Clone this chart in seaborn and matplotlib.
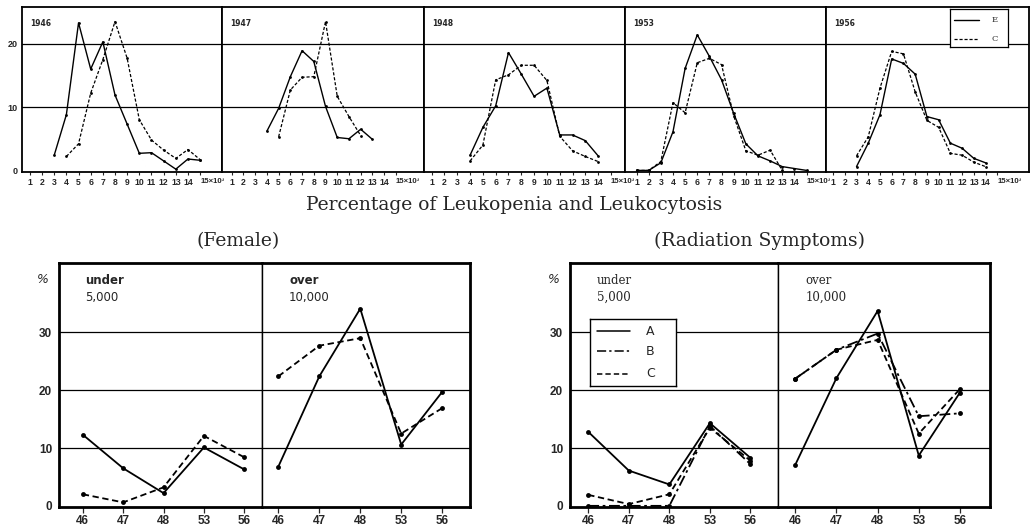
import matplotlib
matplotlib.use("Agg")
import matplotlib.pyplot as plt
import seaborn as sns
import numpy as np

# ---------------- data ----------------
top_years = ["1946", "1947", "1948", "1953", "1956"]
top_tick_labels = ["1", "2", "3", "4", "5", "6", "7", "8", "9", "10", "11", "12", "13", "14", "15×10³"]

# solid series (E) : start x, values
e_start = [3, 4, 4, 1, 3]
e_vals = [
    [2.4, 8.8, 23.3, 16.0, 20.3, 11.9, 7.3, 2.7, 2.8, 1.5, 0.2, 1.8, 1.6],
    [6.2, 9.8, 14.8, 18.9, 17.2, 10.1, 5.2, 5.0, 6.5, 4.9],
    [2.4, 6.8, 10.2, 18.6, 15.2, 11.7, 13.0, 5.6, 5.6, 4.7, 2.3],
    [0.0, 0.0, 1.2, 6.1, 16.1, 21.4, 18.0, 14.3, 9.0, 4.2, 2.3, 1.5, 0.6, 0.3, 0.0],
    [0.6, 4.3, 8.8, 17.6, 16.9, 15.2, 8.5, 8.0, 4.3, 3.5, 1.9, 1.2],
]
# dashed series (C)
c_start = [4, 5, 4, 1, 3]
c_vals = [
    [2.2, 4.2, 12.2, 17.5, 23.5, 17.7, 8.0, 4.8, 3.2, 1.9, 3.3, 1.7],
    [5.3, 12.7, 14.7, 14.8, 23.5, 11.7, 8.5, 5.5],
    [1.5, 4.0, 14.3, 15.1, 16.6, 16.6, 14.2, 5.4, 3.1, 2.2, 1.4],
    [0.0, 0.0, 1.4, 10.7, 9.1, 17.0, 17.7, 16.7, 8.6, 3.1, 2.4, 3.2, 0.0],
    [2.3, 5.3, 13.0, 18.8, 18.4, 12.4, 7.9, 6.8, 2.7, 2.4, 1.3, 0.6],
]

years = ["46", "47", "48", "53", "56"]

# Female
fem_under_solid = [12.3, 6.5, 2.2, 10.1, 6.3]
fem_under_dash = [2.0, 0.6, 3.2, 12.1, 8.4]
fem_over_solid = [6.8, 22.4, 34.1, 10.6, 19.7]
fem_over_dash = [22.4, 27.7, 29.0, 12.5, 16.9]

# Radiation symptoms
rad_under_A = [12.8, 6.1, 3.7, 14.3, 8.3]
rad_under_B = [0.0, 0.0, 0.0, 13.8, 7.2]
rad_under_C = [1.9, 0.3, 2.0, 13.5, 7.8]
rad_over_A = [7.1, 22.1, 33.7, 8.7, 19.6]
rad_over_B = [22.0, 27.0, 29.8, 15.5, 16.0]
rad_over_C = [22.0, 27.0, 28.7, 12.5, 20.2]

# ---------------- figure ----------------
sns.set_theme(style="white")
plt.rcParams["font.family"] = ["DejaVu Sans"]
TICKF = ["Liberation Sans", "DejaVu Sans"]

W, H = 1032, 530
fig = plt.figure(figsize=(W / 100, H / 100), dpi=100)


def ax_px(x0, y0, x1, y1):
    return fig.add_axes([x0 / W, 1 - y1 / H, (x1 - x0) / W, (y1 - y0) / H])


def line(ax, x, y, ls, lw=1.0, ms=2.5):
    sns.lineplot(x=x, y=y, ax=ax, color="black", linestyle=ls, linewidth=lw,
                 marker="o", markersize=ms, markeredgewidth=0, errorbar=None)


# ---- top row ----
edges = [22, 222, 424, 625, 826, 1029]
top_xlims = [(0.35, 16.8), (0.17, 17.4), (0.4, 16.1), (0.05, 16.6), (0.4, 17.7)]
for i in range(5):
    ax = ax_px(edges[i], 7, edges[i + 1], 172)
    ax.set_xlim(*top_xlims[i])
    ax.set_ylim(-0.25, 25.8)
    for v in (10, 20):
        ax.axhline(v, color="black", lw=0.9, zorder=0)
    xe = list(range(e_start[i], e_start[i] + len(e_vals[i])))
    xc = list(range(c_start[i], c_start[i] + len(c_vals[i])))
    line(ax, xe, e_vals[i], "-", lw=1.0, ms=2)
    line(ax, xc, c_vals[i], (0, (2.5, 1.5)), lw=0.9, ms=2)
    ax.set_xticks(range(1, 16))
    ax.set_xticklabels(top_tick_labels, family=TICKF, fontsize=6.2, fontweight="bold")
    lab = ax.get_xticklabels()[-1]
    lab.set_horizontalalignment("left")
    lab.set_x(14.5)
    lab.set_fontsize(5.6)
    ax.tick_params(axis="x", length=2.5, width=0.8, pad=2, direction="out", bottom=True)
    if i == 0:
        ax.set_yticks([0, 10, 20])
        ax.set_yticklabels(["0", "10", "20"], family=TICKF, fontsize=6.5, fontweight="bold")
        ax.tick_params(axis="y", length=0, pad=3)
    else:
        ax.set_yticks([])
    for s in ax.spines.values():
        s.set_color("black")
        s.set_linewidth(1.3)
    ax.text(0.04, 0.93, top_years[i], transform=ax.transAxes, fontsize=5.5,
            fontweight="bold", va="top", ha="left")
    ax.set_xlabel("")
    ax.set_ylabel("")
    if i == 4:
        lx = ax_px(950, 9, 1008, 47)
        lx.set_xlim(0, 1)
        lx.set_ylim(0, 1)
        lx.set_xticks([])
        lx.set_yticks([])
        for s in lx.spines.values():
            s.set_linewidth(0.9)
            s.set_color("black")
        lx.plot([0.07, 0.5], [0.72, 0.72], color="black", lw=1.0)
        lx.plot([0.07, 0.5], [0.22, 0.22], color="black", lw=0.9, ls=(0, (2.5, 1.5)))
        lx.text(0.72, 0.72, "E", fontsize=6, va="center", family="DejaVu Serif")
        lx.text(0.72, 0.22, "C", fontsize=6, va="center", family="DejaVu Serif")

fig.text(514 / W, 1 - 205 / H, "Percentage of Leukopenia and Leukocytosis",
         family="DejaVu Serif", fontsize=13.5, ha="center", va="center")
fig.text(238 / W, 1 - 241 / H, "(Female)", family="DejaVu Serif", fontsize=13.5,
         ha="center", va="center")
fig.text(759 / W, 1 - 241 / H, "(Radiation Symptoms)", family="DejaVu Serif",
         fontsize=13.5, ha="center", va="center")


def bottom_half(x0, x1, xlim, left, series, label_top, label_bot, serif):
    ax = ax_px(x0, 263, x1, 507)
    ax.set_xlim(*xlim)
    ax.set_ylim(-0.2, 42)
    for v in (10, 20, 30):
        ax.axhline(v, color="black", lw=0.9, zorder=0)
    pos = list(range(len(years)))
    for vals, ls in series:
        line(ax, pos, vals, ls, lw=1.3, ms=3.5)
    ax.set_xticks(pos)
    ax.set_xticklabels(years, family=TICKF, fontsize=8.5, fontweight="bold")
    ax.tick_params(axis="x", length=4, width=0.9, pad=2, direction="out", bottom=True)
    if left:
        ax.set_yticks([0, 10, 20, 30])
        ax.set_yticklabels(["0", "10", "20", "30"], family=TICKF, fontsize=8.5,
                           fontweight="bold")
        ax.tick_params(axis="y", length=0, pad=5)
    else:
        ax.set_yticks([])
    for name, s in ax.spines.items():
        s.set_color("black")
        s.set_linewidth(2.0)
    if left:
        ax.spines["right"].set_linewidth(1.0)
    else:
        ax.spines["left"].set_linewidth(1.0)
    fam = "DejaVu Serif" if serif else "DejaVu Sans"
    ax.text(0.13, 0.955, label_top, transform=ax.transAxes, fontsize=8.5, family=fam,
            va="top", ha="left", fontweight="normal" if serif else "bold")
    ax.text(0.13, 0.885, label_bot, transform=ax.transAxes, fontsize=8.5, family=fam,
            va="top", ha="left")
    ax.set_xlabel("")
    ax.set_ylabel("")
    return ax


DASH = (0, (3.5, 2))
DASHDOT = (0, (6, 2, 1.5, 2))

a = bottom_half(59, 262, (-0.59, 4.44), True,
                [(fem_under_solid, "-"), (fem_under_dash, DASH)], "under", "5,000", False)
a.text(-0.08, 0.96, "%", transform=a.transAxes, fontsize=9, style="italic", va="top", ha="center")
bottom_half(262, 470, (-0.40, 4.68), False,
            [(fem_over_solid, "-"), (fem_over_dash, DASH)], "over", "10,000", False)

b = bottom_half(570, 778, (-0.45, 4.68), True,
                [(rad_under_A, "-"), (rad_under_B, DASHDOT), (rad_under_C, DASH)],
                "under", "5,000", True)
b.text(-0.08, 0.96, "%", transform=b.transAxes, fontsize=9, style="italic", va="top", ha="center")
bottom_half(778, 990, (-0.42, 4.73), False,
            [(rad_over_A, "-"), (rad_over_B, DASHDOT), (rad_over_C, DASH)],
            "over", "10,000", True)

# legend box in radiation panel
lg = ax_px(590, 319, 676, 386)
lg.set_xlim(0, 1)
lg.set_ylim(0, 1)
lg.set_xticks([])
lg.set_yticks([])
lg.patch.set_facecolor("white")
for s in lg.spines.values():
    s.set_linewidth(1.0)
    s.set_color("black")
for yy, ls, t in [(0.82, "-", "A"), (0.52, DASHDOT, "B"), (0.18, DASH, "C")]:
    lg.plot([0.08, 0.47], [yy, yy], color="black", lw=1.1, ls=ls)
    lg.text(0.7, yy, t, fontsize=9, va="center", ha="center")

fig.savefig("out.png", dpi=100, facecolor="white")
